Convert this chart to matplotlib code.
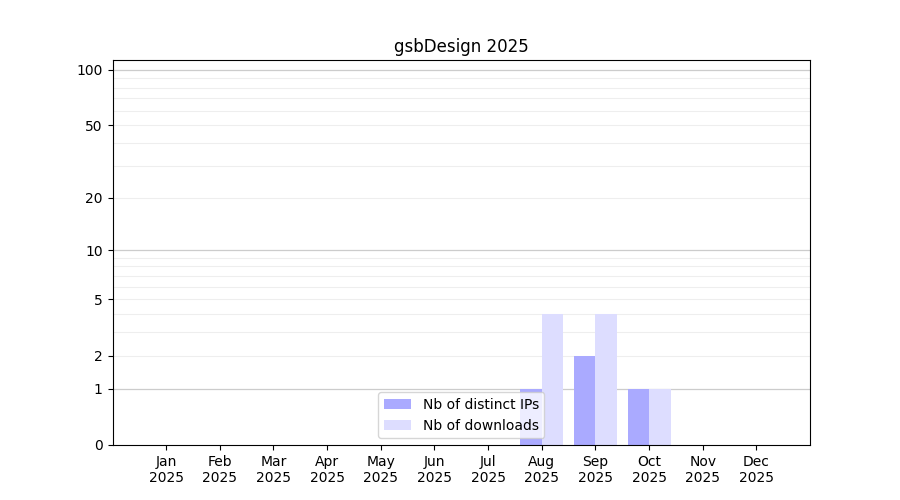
import numpy as np
import matplotlib
matplotlib.use("Agg")
import matplotlib.pyplot as plt

months = ["Jan", "Feb", "Mar", "Apr", "May", "Jun", "Jul", "Aug", "Sep", "Oct", "Nov", "Dec"]
year = "2025"
distinct_ips = [0, 0, 0, 0, 0, 0, 0, 1, 2, 1, 0, 0]
downloads = [0, 0, 0, 0, 0, 0, 0, 4, 4, 1, 0, 0]
ytick_vals = [0, 1, 2, 5, 10, 20, 50, 100]
major_grid = [1, 10, 100]
minor_grid = [2, 3, 4, 5, 6, 7, 8, 9, 20, 30, 40, 50, 60, 70, 80, 90]

fig, ax = plt.subplots(figsize=(9, 5), dpi=100)

fwd = lambda y: np.log10(1 + np.clip(y, 0, None))
inv = lambda y: 10 ** y - 1
ax.set_yscale("function", functions=(fwd, inv))

x = np.arange(len(months))
w = 0.4
for v in minor_grid:
    ax.axhline(v, color="#eeeeee", lw=0.8, zorder=0)
for v in major_grid:
    ax.axhline(v, color="#cccccc", lw=0.9, zorder=0)

ax.bar(x - w / 2, distinct_ips, width=w, color="#aaaaff", label="Nb of distinct IPs", zorder=2)
ax.bar(x + w / 2, downloads, width=w, color="#ddddff", label="Nb of downloads", zorder=2)

ax.set_xticks(x)
ax.set_xticklabels([f"{m}\n{year}" for m in months])
ax.set_xlim(-1, 12)
ax.set_ylim(0, 113)
ax.set_yticks(ytick_vals)
ax.set_yticklabels([str(v) for v in ytick_vals])
ax.yaxis.set_minor_locator(matplotlib.ticker.NullLocator())
ax.set_title("gsbDesign 2025")
ax.legend(loc="lower center")

fig.savefig("out.png", dpi=100)
